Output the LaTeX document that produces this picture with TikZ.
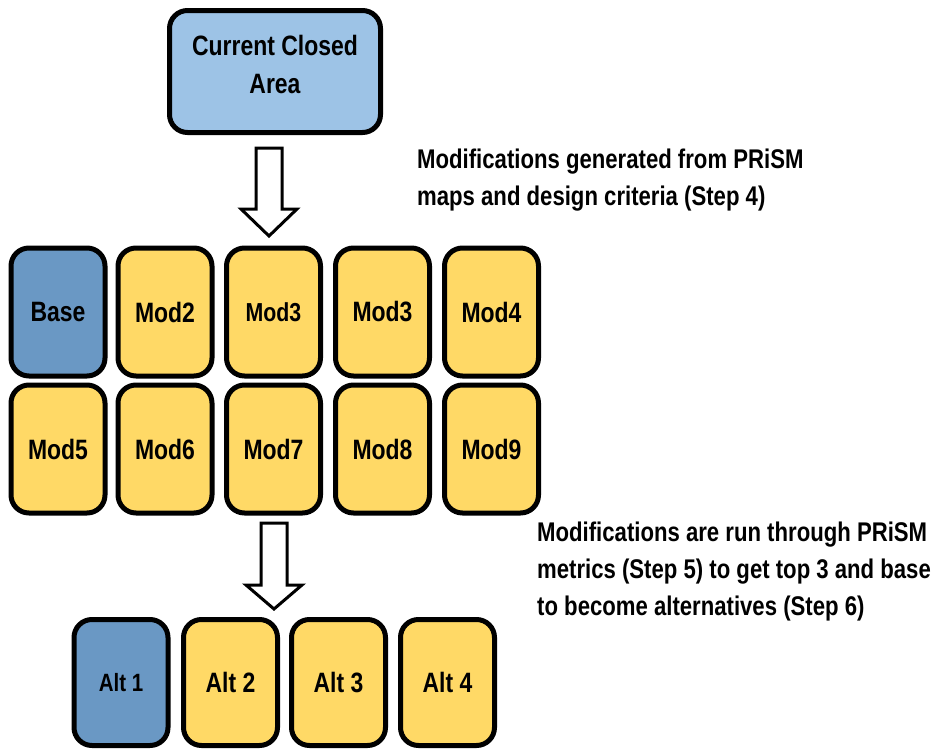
\documentclass[tikz,border=0pt]{standalone}
\usepackage{fontspec}
\setmainfont{Liberation Sans}[FakeStretch=0.82]
\begin{document}
\begin{tikzpicture}[x=1pt,y=-1pt,
  box/.style={draw=black,line width=5pt,rounded corners=18pt,inner sep=0pt,align=center,
    font=\fontsize{28}{38}\selectfont\bfseries},
  modbox/.style={box,fill=modyellow,minimum width=94pt,minimum height=128pt},
  basebox/.style={box,fill=basedark,minimum width=94pt,minimum height=128pt},
  small/.style={font=\fontsize{26}{30}\selectfont\bfseries},
  smaller/.style={font=\fontsize{25}{30}\selectfont\bfseries},
  boxtext/.style={align=center,inner sep=0pt,font=\fontsize{28}{38}\selectfont\bfseries},
  blockarrow/.style={draw=black,line width=3pt,fill=white,line join=miter},
  note/.style={align=left,anchor=west,inner sep=0pt,font=\fontsize{27}{37}\selectfont\bfseries}
]
\definecolor{toplight}{RGB}{157,195,230}
\definecolor{basedark}{RGB}{106,152,196}
\definecolor{modyellow}{RGB}{255,217,102}
\useasboundingbox (0,0) rectangle (948,750);

\node[box,fill=toplight,minimum width=211pt,minimum height=122pt] (top) at (275,71.5) {};
\node[boxtext] (toptext) at (275,64) {Current Closed\\Area};

\node[basebox] (base) at (58,312) {Base};
\node[modbox] (m2) at (165,312) {Mod2};
\node[modbox,small] (m3a) at (273.5,312) {Mod3};
\node[modbox] (m3b) at (382.5,312) {Mod3};
\node[modbox] (m4) at (491.5,312) {Mod4};
\node[modbox] (m5) at (58,449) {Mod5};
\node[modbox] (m6) at (165,449) {Mod6};
\node[modbox] (m7) at (273.5,449) {Mod7};
\node[modbox] (m8) at (382.5,449) {Mod8};
\node[modbox] (m9) at (491.5,449) {Mod9};

\node[basebox,smaller,minimum height=126pt] (a1) at (121,682.5) {Alt 1};
\node[modbox,minimum height=126pt] (a2) at (230.5,682.5) {Alt 2};
\node[modbox,minimum height=126pt] (a3) at (338.5,682.5) {Alt 3};
\node[modbox,minimum height=126pt] (a4) at (447.5,682.5) {Alt 4};

% block arrows
\draw[blockarrow] (256,148) -- (282,148) -- (282,209) -- (297,209) -- (269,236)
  -- (241,209) -- (256,209) -- cycle;
\draw[blockarrow] (261,523) -- (287,523) -- (287,585) -- (302,585) -- (274,609)
  -- (246,585) -- (261,585) -- cycle;

\node[note] (t1) at (417,180) {Modifications generated from PRiSM\\maps and design criteria (Step 4)};
\node[note] (t2) at (537,572) {Modifications are run through PRiSM\\metrics (Step 5) to get top 3 and base\\to become alternatives (Step 6)};
\end{tikzpicture}
\end{document}
